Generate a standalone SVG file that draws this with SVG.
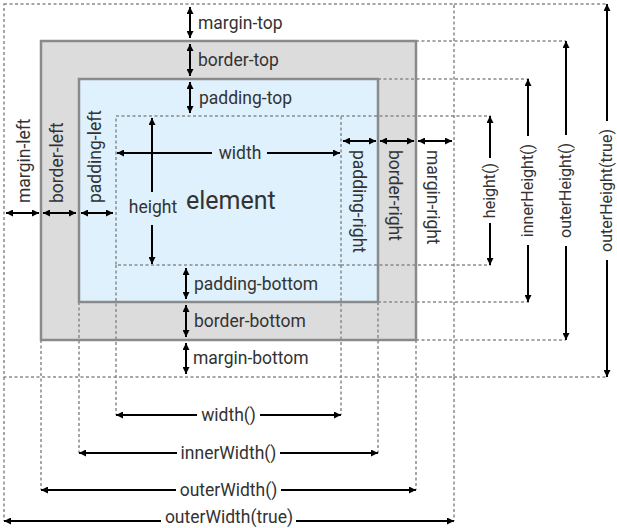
<svg xmlns="http://www.w3.org/2000/svg" width="617" height="528" viewBox="0 0 617 528">
<defs>
<marker id="ah" viewBox="0 0 7 7" refX="7" refY="3.5" markerWidth="7" markerHeight="7" markerUnits="userSpaceOnUse" orient="auto-start-reverse">
<path d="M0,0 L7,3.5 L0,7 z" fill="#000"/>
</marker>
</defs>
<style>
.lbl{font-family:Roboto,"Liberation Sans",sans-serif;font-size:17.5px;fill:#333}
.v16{font-size:16px}
.big{font-size:25px}
.mid{text-anchor:middle}
.dash{fill:none;stroke:#8a8a8a;stroke-width:1.5;stroke-dasharray:3 2.5}
.box{stroke:#8a8a8a;stroke-width:2.5}
.arr{stroke:#000;stroke-width:2;fill:none}
.s{marker-start:url(#ah)}
.e{marker-end:url(#ah)}
.b{marker-start:url(#ah);marker-end:url(#ah)}
</style>
<rect width="617" height="528" fill="#fff"/>
<g id="margin-box"><rect class="dash" x="4" y="4" width="450" height="373"/></g>
<g id="border-box"><rect class="box" x="41" y="41" width="375" height="299" fill="#dcdcdd"/></g>
<g id="padding-box"><rect class="box" x="79" y="79" width="299" height="223" fill="#dff1fc"/></g>
<g id="content-box"><rect class="dash" x="116" y="116" width="225" height="149"/>
<text class="lbl big" x="186" y="209">element</text></g>
<g id="connectors">
<g id="guides" class="dash">
<path d="M341,116H491M378,79H529M416,41H566M454,4H607M341,265H491M378,302H529M416,340H566M454,377H607"/>
<path d="M116,265V415M341,265V415M79,302V453M378,302V453M41,340V490M416,340V490M4,377V521M454,377V521"/>
</g>
<g id="arrows" class="arr">
<line class="b" x1="190" y1="7" x2="190" y2="38"/>
<line class="b" x1="190" y1="44" x2="190" y2="76"/>
<line class="b" x1="190" y1="82" x2="190" y2="113"/>
<line class="b" x1="186" y1="268" x2="186" y2="299"/>
<line class="b" x1="186" y1="305" x2="186" y2="337"/>
<line class="b" x1="186" y1="343" x2="186" y2="374"/>
<line class="b" x1="6" y1="213" x2="39" y2="213"/>
<line class="b" x1="43" y1="213" x2="76" y2="213"/>
<line class="b" x1="81" y1="213" x2="113" y2="213"/>
<line class="b" x1="343" y1="141" x2="376" y2="141"/>
<line class="b" x1="380" y1="141" x2="414" y2="141"/>
<line class="b" x1="418" y1="141" x2="452" y2="141"/>
<line class="s" x1="117" y1="153" x2="212" y2="153"/>
<line class="e" x1="267" y1="153" x2="340" y2="153"/>
<line class="s" x1="152" y1="118" x2="152" y2="192"/>
<line class="e" x1="152" y1="225" x2="152" y2="264"/>
<line class="s" x1="490" y1="116" x2="490" y2="158"/>
<line class="e" x1="490" y1="223" x2="490" y2="265"/>
<line class="s" x1="528" y1="79" x2="528" y2="136"/>
<line class="e" x1="528" y1="245" x2="528" y2="302"/>
<line class="s" x1="566" y1="41" x2="566" y2="135"/>
<line class="e" x1="566" y1="246" x2="566" y2="340"/>
<line class="s" x1="607" y1="4" x2="607" y2="121"/>
<line class="e" x1="607" y1="260" x2="607" y2="377"/>
<line class="s" x1="116" y1="415" x2="197" y2="415"/>
<line class="e" x1="260" y1="415" x2="341" y2="415"/>
<line class="s" x1="79" y1="453" x2="177" y2="453"/>
<line class="e" x1="280" y1="453" x2="378" y2="453"/>
<line class="s" x1="41" y1="490" x2="176" y2="490"/>
<line class="e" x1="281" y1="490" x2="416" y2="490"/>
<line class="s" x1="4" y1="521" x2="161" y2="521"/>
<line class="e" x1="296" y1="521" x2="454" y2="521"/>
</g>
</g>
<g id="labels-top">
<text class="lbl" x="198" y="28.5">margin-top</text>
<text class="lbl" x="198" y="66">border-top</text>
<text class="lbl" x="199" y="103.5">padding-top</text>
</g>
<g id="labels-bottom">
<text class="lbl" x="194" y="290">padding-bottom</text>
<text class="lbl" x="194" y="327">border-bottom</text>
<text class="lbl" x="193" y="364">margin-bottom</text>
</g>
<g id="labels-left">
<text class="lbl" transform="translate(30,203) rotate(-90)">margin-left</text>
<text class="lbl" transform="translate(63,203) rotate(-90)">border-left</text>
<text class="lbl" transform="translate(101,203) rotate(-90)">padding-left</text>
</g>
<g id="labels-right">
<text class="lbl" transform="translate(353,150) rotate(90)">padding-right</text>
<text class="lbl" transform="translate(389,150) rotate(90)">border-right</text>
<text class="lbl" transform="translate(427,150) rotate(90)">margin-right</text>
</g>
<g id="labels-content">
<text class="lbl mid" x="240" y="159">width</text>
<text class="lbl mid" x="153" y="213">height</text>
</g>
<g id="labels-height">
<text class="lbl v16 mid" transform="translate(495,190.5) rotate(-90)">height()</text>
<text class="lbl v16 mid" transform="translate(533,190.5) rotate(-90)">innerHeight()</text>
<text class="lbl v16 mid" transform="translate(571,190.5) rotate(-90)">outerHeight()</text>
<text class="lbl v16 mid" transform="translate(612,190.5) rotate(-90)">outerHeight(true)</text>
</g>
<g id="labels-width">
<text class="lbl mid" x="228.5" y="421">width()</text>
<text class="lbl mid" x="228.5" y="459">innerWidth()</text>
<text class="lbl mid" x="228.5" y="496">outerWidth()</text>
<text class="lbl mid" x="229" y="523">outerWidth(true)</text>
</g>
</svg>
